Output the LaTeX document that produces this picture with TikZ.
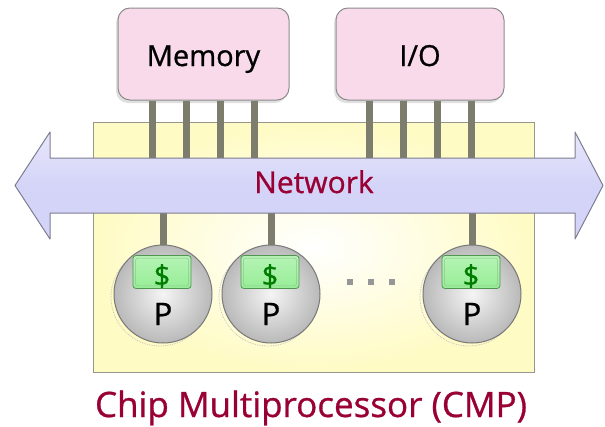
\documentclass[tikz,border=0pt]{standalone}
\usepackage{fontspec}
\setmainfont{Open Sans}[FakeBold=0.8]
\usetikzlibrary{shadows}

\definecolor{cmpred}{RGB}{153,0,51}
\definecolor{boxpink}{RGB}{248,218,234}
\definecolor{boxedge}{RGB}{140,140,140}
\definecolor{chipyellow}{RGB}{255,251,196}
\definecolor{chipedge}{RGB}{150,150,140}
\definecolor{netfill}{RGB}{212,212,248}
\definecolor{netedge}{RGB}{125,125,145}
\definecolor{pincol}{RGB}{125,125,110}
\definecolor{procgray}{RGB}{185,185,185}
\definecolor{procedge}{RGB}{120,120,120}
\definecolor{cachefill}{RGB}{150,238,150}
\definecolor{cacheedge}{RGB}{80,150,80}
\definecolor{dollar}{RGB}{0,125,0}
\definecolor{dotgray}{RGB}{150,150,150}

\begin{document}
\begin{tikzpicture}[x=1pt,y=-1pt,
  unitbox/.style={draw=boxedge, line width=1pt, fill=boxpink, rounded corners=12pt,
    minimum height=92pt, inner sep=0pt,
    drop shadow={shadow xshift=-2pt, shadow yshift=-3pt, opacity=0.25}},
  unittext/.style={anchor=base, inner sep=0pt, font=\fontsize{29}{35}\selectfont},
  pinline/.style={draw=pincol, line width=7pt},
  netnode/.style={minimum width=525pt, minimum height=55pt, inner sep=0pt},
  nettext/.style={anchor=base, inner sep=0pt, text=cmpred, font=\fontsize{30}{36}\selectfont},
  proc/.style={circle, minimum size=98pt, inner sep=0pt, draw=procedge, line width=1pt,
    inner color=gray!8, outer color=procgray},
  procshadow/.style={circle, minimum size=98pt, inner sep=0pt, draw=gray!45,
    densely dotted, line width=0.8pt},
  cache/.style={draw=cacheedge, line width=0.8pt, top color=cachefill!70!white,
    bottom color=cachefill, rounded corners=3pt,
    minimum width=58pt, minimum height=33pt, inner sep=0pt},
  dollartext/.style={inner sep=0pt, text=dollar, font=\fontsize{29}{34}\selectfont},
  ptext/.style={anchor=base, inner sep=0pt, font=\fontsize{31}{37}\selectfont},
  dotsq/.style={fill=dotgray, minimum size=6pt, inner sep=0pt},
  title/.style={anchor=base, inner sep=0pt, text=cmpred, font=\fontsize{35}{42}\selectfont}
]
\useasboundingbox (0,0) rectangle (605,426);

% chip outline
\path[draw=chipedge, line width=1pt, inner color=white, outer color=chipyellow]
  (93,122) rectangle (534,372);

% memory and I/O units
\node[unitbox, minimum width=171pt] (mem) at (203.5,54) {};
\node[unitbox, minimum width=168pt] (io) at (420,54) {};
\node[unittext] (memlabel) at (203.5,66) {Memory};
\node[unittext] (iolabel) at (420,66) {I/O};

% network shaft (node) used as the connector target
\node[netnode] (net) at (312.5,185.5) {};

% pins from the units down to the network
\foreach \dx in {-51,-17,17,51} {
  \draw[pinline] ([xshift=\dx pt]mem.south) -- ([xshift=\dx pt]mem.south |- net.north);
  \draw[pinline] ([xshift=\dx pt]io.south) -- ([xshift=\dx pt]io.south |- net.north);
}

% processors, each with a faint dotted shadow ring
\foreach \n/\x in {p1/163,p2/271,p3/472} {
  \node[procshadow] at (\x-3,297) {};
  \node[proc] (\n) at (\x,294) {};
}

% stems from the network to the processors
\foreach \p in {p1,p2,p3}
  \draw[pinline] (\p.north) -- (\p.north |- net.south);

% double-headed network arrow
\path[draw=netedge, line width=1pt, top color=netfill!55!white, bottom color=netfill,
      middle color=netfill, line join=round]
  (15,185.5) -- (50,132) -- (50,158) -- (575,158) -- (575,132) -- (603,185.5)
  -- (575,239) -- (575,213) -- (50,213) -- (50,239) -- cycle;
\node[nettext] (netlabel) at (314,193) {Network};

% caches and processor labels
\foreach \p/\c in {p1/c1,p2/c2,p3/c3} {
  \node[cache] (\c) at ([shift={(-1pt,22pt)}]\p.center) {};
  \draw[cacheedge!60, line width=0.5pt, rounded corners=2pt]
    ([shift={(3pt,-3pt)}]\c.north west) rectangle ([shift={(-3pt,3pt)}]\c.south east);
  \node[dollartext] at ([yshift=-4pt]\c.center) {\$};
  \node[ptext] at ([yshift=-31pt]\p.center) {P};
}

% ellipsis between processors
\node[dotsq] (d1) at (350,282) {};
\node[dotsq] (d2) at (371,282) {};
\node[dotsq] (d3) at (392,282) {};

% caption
\node[title] (caption) at (311,417) {Chip Multiprocessor (CMP)};
\end{tikzpicture}
\end{document}
